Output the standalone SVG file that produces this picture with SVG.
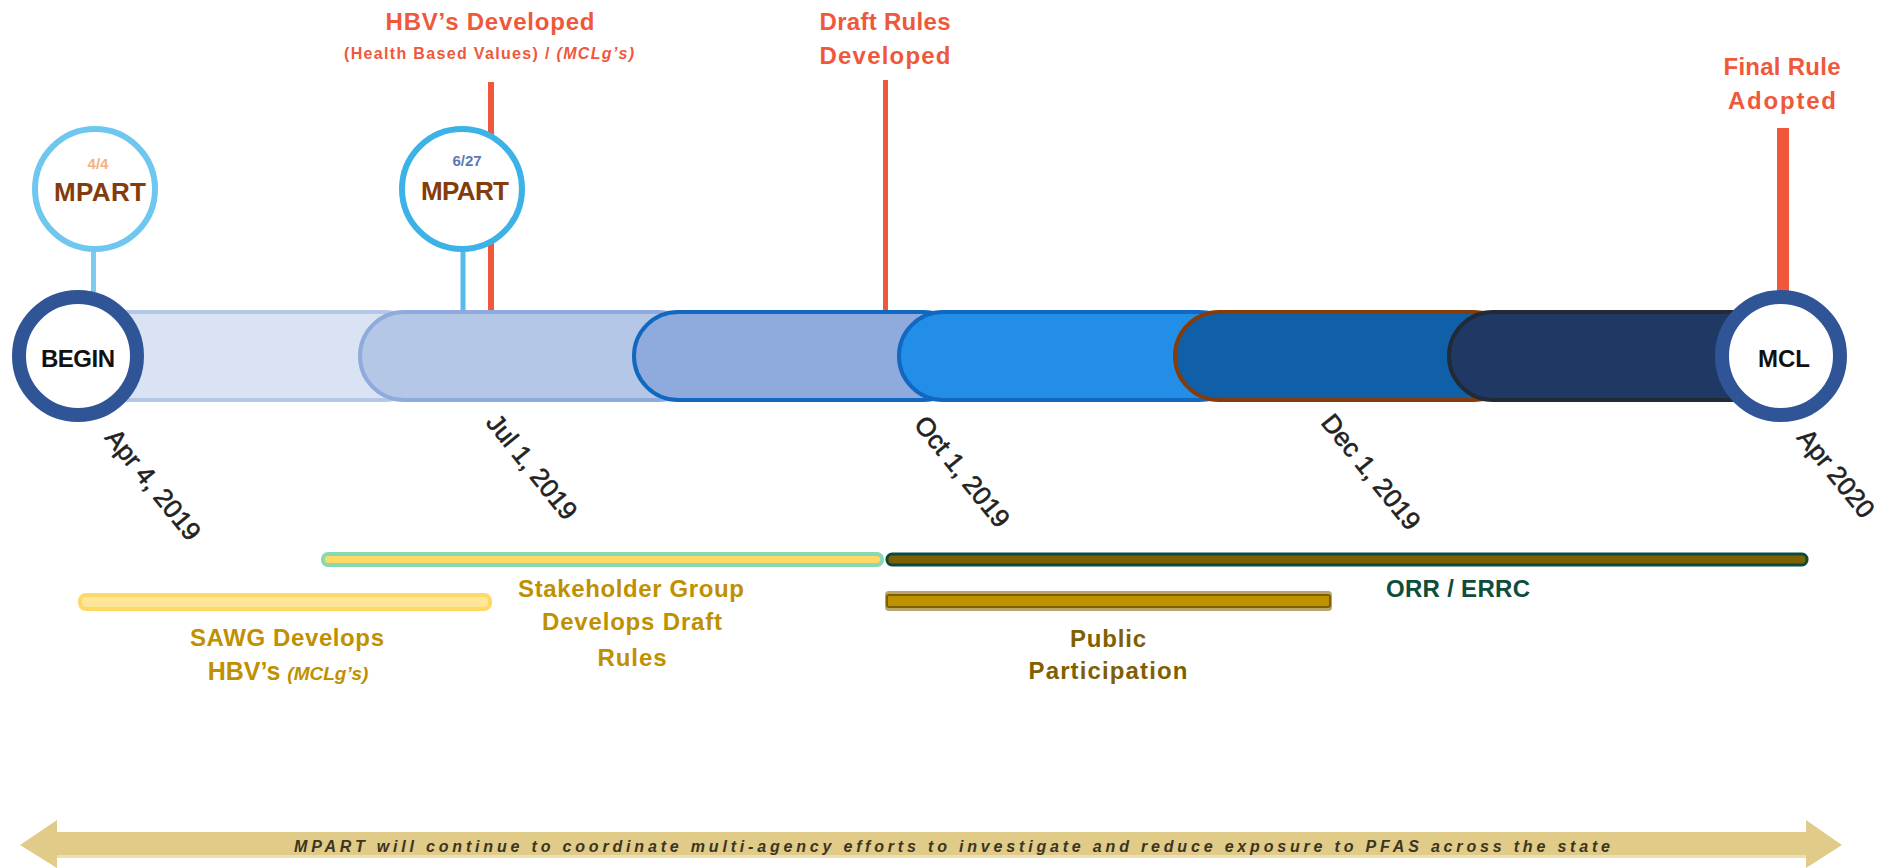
<svg xmlns="http://www.w3.org/2000/svg" width="1881" height="868" viewBox="0 0 1881 868">
<style>
.t{font-family:"Liberation Sans",Arial,sans-serif;font-weight:bold;text-anchor:middle}
.red{fill:#f0583c}
.gold{fill:#bf9000}
.olive{fill:#7f6000}
.brown{fill:#843c0c}
.date{font-family:"Liberation Sans",Arial,sans-serif;font-size:26px;fill:#222222;stroke:#222222;stroke-width:0.6}
.seg{stroke-width:4}
.hub{fill:#ffffff;stroke:#2f5597;stroke-width:14}
.mp{fill:#ffffff;stroke-width:6}
</style>
<rect width="1881" height="868" fill="#ffffff"/>
<g id="connectors" stroke-linecap="butt">
  <line x1="93.5" y1="250" x2="93.5" y2="292" stroke="#7acbf0" stroke-width="5"/>
  <line x1="463" y1="249" x2="463" y2="311" stroke="#55bbea" stroke-width="5"/>
  <line x1="491" y1="82" x2="491" y2="311" stroke="#f0583c" stroke-width="6"/>
  <line x1="885.5" y1="80" x2="885.5" y2="311" stroke="#f0583c" stroke-width="5"/>
  <line x1="1783" y1="128" x2="1783" y2="292" stroke="#f0583c" stroke-width="12"/>
</g>
<g id="timeline-bar">
  <rect class="seg" x="20" y="312" width="408" height="88" rx="44" fill="#dae3f3" stroke="#b4c7e7"/>
  <rect class="seg" x="360" y="312" width="342" height="88" rx="44" fill="#b4c7e7" stroke="#8faadc"/>
  <rect class="seg" x="634" y="312" width="333" height="88" rx="44" fill="#8faadc" stroke="#1068c0"/>
  <rect class="seg" x="899" y="312" width="344" height="88" rx="44" fill="#238ee8" stroke="#1068c0"/>
  <rect class="seg" x="1175" y="312" width="342" height="88" rx="44" fill="#0f60a9" stroke="#843c0c"/>
  <rect class="seg" x="1449" y="312" width="332" height="88" rx="44" fill="#203864" stroke="#222a35"/>
</g>
<g id="node-begin">
  <circle class="hub" cx="78" cy="356" r="59"/>
  <text class="t" x="78" y="367" font-size="24" textLength="74" fill="#111111">BEGIN</text>
</g>
<g id="node-mcl">
  <circle class="hub" cx="1781" cy="356" r="59"/>
  <text class="t" x="1784" y="367" font-size="24" textLength="52" fill="#111111">MCL</text>
</g>
<g id="node-mpart-1">
  <circle class="mp" cx="95" cy="189" r="60" stroke="#6fc7ef"/>
  <text class="t" x="98" y="169" font-size="15" fill="#f4b183">4/4</text>
  <text class="t brown" x="100" y="201" font-size="26" textLength="92">MPART</text>
</g>
<g id="node-mpart-2">
  <circle class="mp" cx="462" cy="189" r="60" stroke="#3db2e6"/>
  <text class="t" x="467" y="166" font-size="15" fill="#5b79b5">6/27</text>
  <text class="t brown" x="465" y="200" font-size="26" textLength="88">MPART</text>
</g>
<g id="milestone-hbv">
  <text class="t red" x="490" y="30" font-size="24" textLength="209">HBV’s Developed</text>
  <text class="t red" x="489" y="59" font-size="16" textLength="290">(Health Based Values) / <tspan font-style="italic">(MCLg’s)</tspan></text>
</g>
<g id="milestone-draft">
  <text class="t red" x="885" y="30" font-size="24" textLength="131">Draft Rules</text>
  <text class="t red" x="885" y="64" font-size="24" textLength="131">Developed</text>
</g>
<g id="milestone-final">
  <text class="t red" x="1782" y="75" font-size="24" textLength="117">Final Rule</text>
  <text class="t red" x="1782" y="109" font-size="24" textLength="108">Adopted</text>
</g>
<g id="dates">
  <text class="date" transform="translate(104,438) rotate(51)">Apr 4, 2019</text>
  <text class="date" transform="translate(485,423) rotate(51)">Jul 1, 2019</text>
  <text class="date" transform="translate(913,425) rotate(51)">Oct 1, 2019</text>
  <text class="date" transform="translate(1320,423) rotate(51)">Dec 1, 2019</text>
  <text class="date" transform="translate(1796,438) rotate(51)">Apr 2020</text>
</g>
<g id="phase-stakeholder">
  <rect x="323" y="554" width="559" height="11" rx="5" fill="#ffd966" stroke="#86d9b0" stroke-width="4"/>
  <text class="t gold" x="631" y="597" font-size="24" textLength="226">Stakeholder Group</text>
  <text class="t gold" x="632" y="630" font-size="24" textLength="180">Develops Draft</text>
  <text class="t gold" x="632" y="666" font-size="24" textLength="69">Rules</text>
</g>
<g id="phase-orr">
  <rect x="887" y="554" width="920" height="11" rx="5" fill="#7f6000" stroke="#0d4a38" stroke-width="3"/>
  <text class="t" x="1458" y="597" font-size="24" textLength="144" fill="#0e4d3a">ORR / ERRC</text>
</g>
<g id="phase-sawg">
  <rect x="80" y="595" width="410" height="14" rx="6" fill="#ffe699" stroke="#ffd966" stroke-width="4"/>
  <text class="t gold" x="287" y="646" font-size="24" textLength="194">SAWG Develops</text>
  <text class="t gold" x="288" y="680" font-size="25">HBV’s <tspan font-style="italic" font-size="19">(MCLg’s)</tspan></text>
</g>
<g id="phase-public">
  <rect x="885" y="591" width="447" height="20" rx="4" fill="#b9a66c"/>
  <rect x="887" y="595" width="443" height="12" rx="2" fill="#bf9000" stroke="#7f6000" stroke-width="2"/>
  <text class="t olive" x="1108" y="647" font-size="24" textLength="76">Public</text>
  <text class="t olive" x="1108" y="679" font-size="24" textLength="159">Participation</text>
</g>
<g id="banner">
  <polygon points="57,820 57,832 1806,832 1806,820 1842,845 1806,868 1806,858 57,858 57,868 20,845" fill="#e0cb88"/>
  <rect x="57" y="855" width="1749" height="3" fill="#ecdfb4"/>
  <text class="t" x="952" y="852" font-size="16" font-style="italic" textLength="1316" fill="#3b3521">MPART will continue to coordinate multi-agency efforts to investigate and reduce exposure to PFAS across the state</text>
</g>
</svg>
